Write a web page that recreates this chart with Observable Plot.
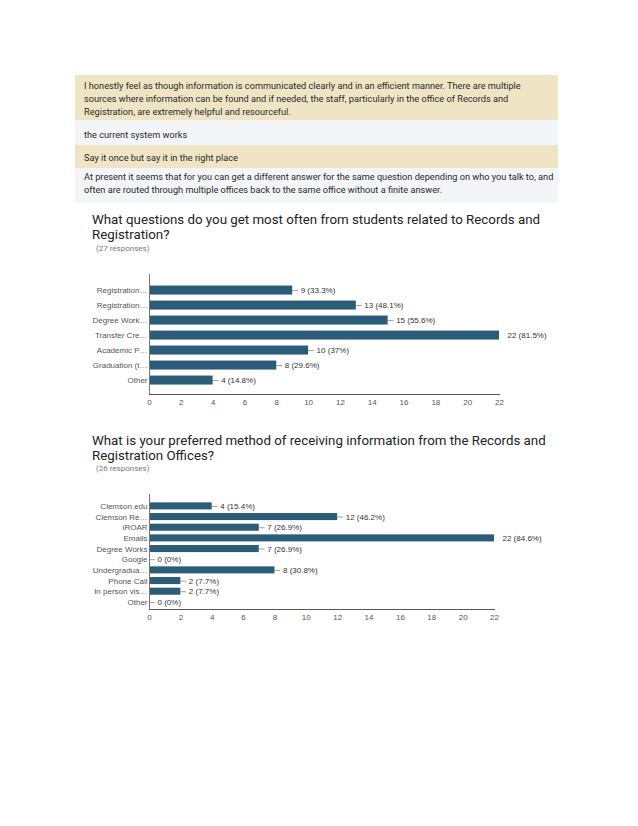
<!DOCTYPE html>
<html>
<head>
<meta charset="utf-8">
<script src="https://cdn.jsdelivr.net/npm/d3@7"></script>
<script src="https://cdn.jsdelivr.net/npm/@observablehq/plot@0.6"></script>
<style>
  html, body { margin: 0; padding: 0; background: #fff; }
  body { width: 638px; height: 826px; position: relative; overflow: hidden; font-family: Roboto, Arial, "Liberation Sans", sans-serif; }
  .blk { position: absolute; left: 75px; width: 474px; padding-left: 9px; font-size: 9.2px; line-height: 13px; color: #2a2a2a; white-space: nowrap; box-sizing: content-box; }
  .tan { background: #efe5c4; }
  .lt { background: #f3f5f8; }
  .title { position: absolute; left: 92px; font-size: 13.3px; line-height: 15px; color: #222; white-space: nowrap; }
  .sub { position: absolute; left: 96px; font-size: 8px; line-height: 9px; color: #777; }
  .chart { position: absolute; left: 0; }
</style>
</head>
<body>
<div class="blk tan" style="top:75px;height:41px;padding-top:4px;">I honestly feel as though information is communicated clearly and in an efficient manner. There are multiple<br>sources where information can be found and if needed, the staff, particularly in the office of Records and<br>Registration, are extremely helpful and resourceful.</div>
<div class="blk lt" style="top:120px;height:17px;padding-top:8px;">the current system works</div>
<div class="blk tan" style="top:145px;height:17px;padding-top:6px;">Say it once but say it in the right place</div>
<div class="blk lt" style="top:168px;height:33px;padding-top:2px;">At present it seems that for you can get a different answer for the same question depending on who you talk to, and<br>often are routed through multiple offices back to the same office without a finite answer.</div>

<div class="title" style="top:211.5px;">What questions do you get most often from students related to Records and<br>Registration?</div>
<div class="sub" style="top:244px;">(27 responses)</div>
<div class="chart" id="c1" style="top:262px;"></div>

<div class="title" style="top:432.5px;">What is your preferred method of receiving information from the Records and<br>Registration Offices?</div>
<div class="sub" style="top:463.5px;">(26 responses)</div>
<div class="chart" id="c2" style="top:484px;"></div>

<script>
// Chart 1 data
const labels1 = ["Registration…", "Registration…", "Degree Work…", "Transfer Cre…", "Academic P…", "Graduation (t…", "Other"];
const values1 = [9, 13, 15, 22, 10, 8, 4];
const pct1 = ["33.3%", "48.1%", "55.6%", "81.5%", "37%", "29.6%", "14.8%"];

// Chart 2 data
const labels2 = ["Clemson.edu", "Clemson Re…", "iROAR", "Emails", "Degree Works", "Google", "Undergradua…", "Phone Call", "In person vis…", "Other"];
const values2 = [4, 12, 7, 22, 7, 0, 8, 2, 2, 0];
const pct2 = ["15.4%", "46.2%", "26.9%", "84.6%", "26.9%", "0%", "30.8%", "7.7%", "7.7%", "0%"];

const xTicks = [0, 2, 4, 6, 8, 10, 12, 14, 16, 18, 20, 22];
const barColor = "#2b5d78";

function makeChart(labels, values, pcts, o) {
  const data = labels.map((l, i) => ({ key: String(i), label: l, value: values[i], pct: pcts[i] }));
  const maxV = d3.max(values);
  return Plot.plot({
    width: 638,
    height: o.height,
    marginLeft: 149,
    marginRight: o.marginRight,
    marginTop: o.marginTop,
    marginBottom: o.marginBottom,
    style: { fontFamily: "Arial, 'Liberation Sans', sans-serif", fontSize: "8px", color: "#555", background: "transparent" },
    x: { domain: [0, 22], ticks: xTicks, tickSize: 0, tickPadding: 5, label: null, line: true },
    y: { domain: data.map(d => d.key), round: false, paddingInner: o.pi, paddingOuter: o.po, align: o.align, tickSize: 0, tickPadding: 2, label: null, tickFormat: k => labels[+k] },
    marks: [
      Plot.barX(data, { x: "value", y: "key", fill: barColor }),
      Plot.ruleY(data.filter(d => d.value < maxV), { y: "key", x1: "value", x2: d => d.value + 0.37, stroke: "#888", strokeWidth: 0.8 }),
      Plot.text(data, { x: "value", y: "key", text: d => `${d.value} (${d.pct})`, textAnchor: "start", dx: 8, fill: "#333" }),
      Plot.ruleX([0], { stroke: "#777" })
    ]
  });
}

document.getElementById("c1").appendChild(makeChart(labels1, values1, pct1, { height: 152, marginTop: 12, marginBottom: 20, marginRight: 139, pi: 0.4, po: 0.7, align: 0.55 }));
document.getElementById("c2").appendChild(makeChart(labels2, values2, pct2, { height: 145, marginTop: 10, marginBottom: 20, marginRight: 144, pi: 0.34, po: 0.56, align: 0.7 }));
</script>
</body>
</html>
